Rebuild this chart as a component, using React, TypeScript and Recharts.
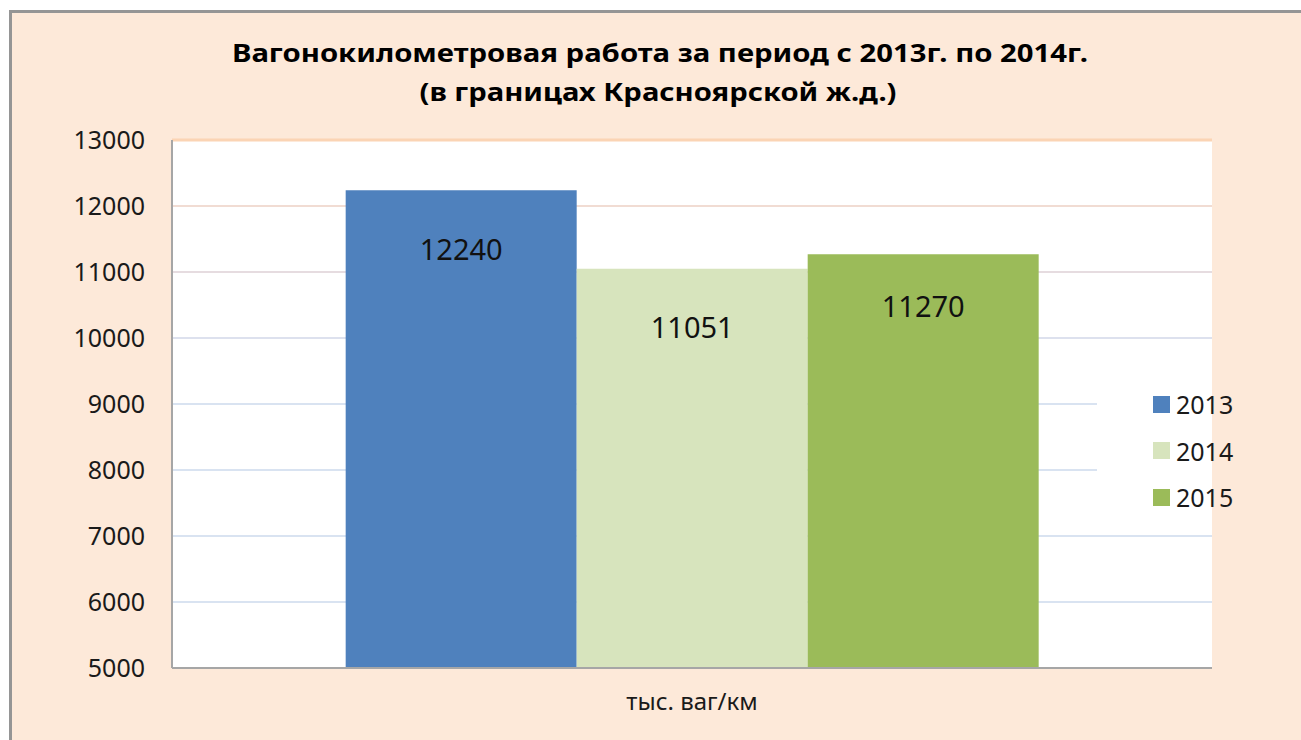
import React from 'react';
import { BarChart, Bar, XAxis, YAxis, CartesianGrid, Legend, LabelList } from 'recharts';

const categories = ['тыс. ваг/км'];
const values2013 = [12240];
const values2014 = [11051];
const values2015 = [11270];
const yTicks = [5000, 6000, 7000, 8000, 9000, 10000, 11000, 12000, 13000];

const data = categories.map((name, i) => ({
  name,
  y2013: values2013[i],
  y2014: values2014[i],
  y2015: values2015[i],
}));

const FONT = '"Noto Sans", "Open Sans", sans-serif';

// grid lines fade from peach at the top to light blue lower down
const gridColor = (y: number) =>
  y < 160 ? '#fbd4b4' : y < 230 ? '#f1dcd3' : y < 300 ? '#e6dce0' : y < 360 ? '#dde1ee' : '#d9e3f1';

const GridLine = (p: any) => {
  if (p.y1 > 660) return <g key={p.key} />;
  return (
    <line
      key={p.key}
      x1={p.x1}
      x2={p.x2}
      y1={p.y1}
      y2={p.y2}
      stroke={gridColor(p.y1)}
      strokeWidth={p.y1 < 160 ? 3 : 2}
    />
  );
};

const renderLegend = (props: any) => (
  <div
    style={{
      position: 'relative',
      width: 160,
      height: 150,
      background: 'linear-gradient(to right, #fff 115px, transparent 115px)',
    }}
  >
    {(props.payload || []).map((e: any, i: number) => (
      <div
        key={i}
        style={{
          position: 'absolute',
          left: 56,
          top: 34 + i * 46.5 - 15,
          height: 30,
          display: 'flex',
          alignItems: 'center',
        }}
      >
        <span style={{ display: 'inline-block', width: 17, height: 17, background: e.color, marginRight: 6 }} />
        <span style={{ fontSize: 25, fontFamily: FONT, color: '#1a1a1a', lineHeight: '30px' }}>{e.value}</span>
      </div>
    ))}
  </div>
);

export default function App() {
  return (
    <div style={{ position: 'absolute', left: 0, top: 0, width: 1301, height: 740, overflow: 'hidden', background: '#fff' }}>
      <div
        style={{
          position: 'absolute',
          left: 9,
          top: 10,
          width: 1400,
          height: 800,
          background: '#fde9d9',
          borderTop: '3px solid #959595',
          borderLeft: '3px solid #959595',
        }}
      />
      <svg width={1301} height={120} style={{ position: 'absolute', left: 0, top: 0 }}>
        <text x={660} y={62} textAnchor="middle" fontFamily={FONT} fontWeight="bold" fontSize={25} fill="#000"
          textLength={856} lengthAdjust="spacingAndGlyphs">
          Вагонокилометровая работа за период с 2013г. по 2014г.
        </text>
        <text x={658} y={101} textAnchor="middle" fontFamily={FONT} fontWeight="bold" fontSize={25} fill="#000"
          textLength={477} lengthAdjust="spacingAndGlyphs">
          (в границах Красноярской ж.д.)
        </text>
      </svg>
      <div style={{ position: 'absolute', left: 0, top: 0 }}>
        <BarChart
          width={1301}
          height={740}
          data={data}
          margin={{ top: 140, right: 89, bottom: 0, left: 0 }}
          barCategoryGap="16.7%"
          barGap={0}
        >
          <CartesianGrid vertical={false} horizontal={GridLine} fill="#fff" />
          <XAxis
            dataKey="name"
            height={72}
            tickLine={false}
            tickSize={0}
            tickMargin={25}
            axisLine={{ stroke: '#a6a6a6', strokeWidth: 2 }}
            tick={{ fontSize: 24, fontFamily: FONT, fill: '#1a1a1a' }}
          />
          <YAxis
            width={172}
            domain={[5000, 13000]}
            ticks={yTicks}
            allowDataOverflow
            tickLine={false}
            tickSize={0}
            tickMargin={27}
            axisLine={{ stroke: '#a6a6a6', strokeWidth: 2 }}
            tick={{ fontSize: 25, fontFamily: FONT, fill: '#1a1a1a' }}
          />
          <Legend
            layout="vertical"
            align="center"
            verticalAlign="middle"
            content={renderLegend}
            wrapperStyle={{ left: 1097, top: 370, width: 160 }}
          />
          <Bar dataKey="y2013" name="2013" fill="#4f81bd" isAnimationActive={false}>
            <LabelList dataKey="y2013" position="insideTop" offset={49} style={{ fontSize: 29, fontFamily: FONT, fill: '#111' }} />
          </Bar>
          <Bar dataKey="y2014" name="2014" fill="#d7e4bd" isAnimationActive={false}>
            <LabelList dataKey="y2014" position="insideTop" offset={49} style={{ fontSize: 29, fontFamily: FONT, fill: '#111' }} />
          </Bar>
          <Bar dataKey="y2015" name="2015" fill="#9bbb59" isAnimationActive={false}>
            <LabelList dataKey="y2015" position="insideTop" offset={42} style={{ fontSize: 29, fontFamily: FONT, fill: '#111' }} />
          </Bar>
        </BarChart>
      </div>
    </div>
  );
}
